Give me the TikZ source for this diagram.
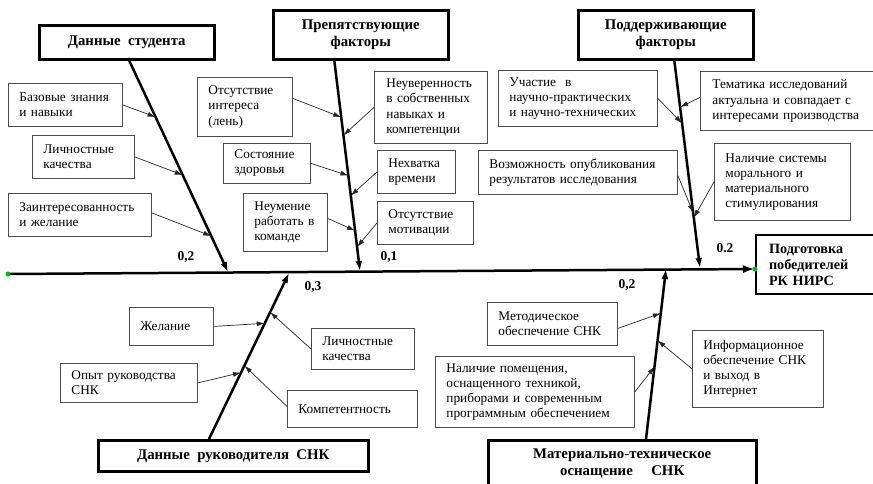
\documentclass[tikz,border=0pt]{standalone}
\usepackage{fontspec}
\setmainfont{Liberation Serif}
\usetikzlibrary{arrows.meta,calc}
\tikzset{
  sbox/.style={draw=black!70, line width=0.8pt, anchor=north west, align=left, inner xsep=11pt, inner ysep=0pt, font=\fontsize{13.3}{15.2}\selectfont},
  cbox/.style={draw, line width=2.5pt, anchor=north west, align=center, inner sep=0pt, font=\bfseries\fontsize{14.8}{17}\selectfont},
  bone/.style={line width=2.5pt, -{Latex[length=10pt,width=7pt]}},
  sarrow/.style={draw=black!85, line width=0.7pt, -{Latex[length=8pt,width=5pt]}},
  lbl/.style={font=\bfseries\fontsize{13.5}{14}\selectfont, inner sep=0pt},
  gdot/.style={fill=green!75!black}
}
\begin{document}
\begin{tikzpicture}[x=1pt,y=-1pt]
\useasboundingbox (0,0) rectangle (873,483);
% category boxes
\node[cbox, minimum width=175pt, minimum height=34pt] (c1) at (38,24) {Данные \ студента};
\node[cbox, minimum width=175pt, minimum height=49pt] (c2) at (272,9) {Препятствующие\\факторы};
\node[cbox, minimum width=175pt, minimum height=49pt] (c3) at (577,9) {Поддерживающие\\факторы};
\node[cbox, minimum width=270pt, minimum height=31pt] (c4) at (97,439) {Данные \ руководителя \ СНК};
\node[cbox, minimum width=268pt, minimum height=46pt] (c5) at (487,439) {Материально-техническое\\оснащение \quad СНК};
\node[cbox, line width=2pt, align=left, text width=104pt, inner xsep=13pt, minimum height=59pt, font=\bfseries\fontsize{14.2}{16}\selectfont] (r) at (755,234) {Подготовка\\победителей\\РК~НИРС};

% small boxes: student
\node[sbox, text width=92pt, minimum height=43pt] (s1) at (8,83) {Базовые~знания\\и~навыки};
\node[sbox, text width=80pt, minimum height=43pt] (s2) at (32,135) {Личностные\\качества};
\node[sbox, text width=121pt, minimum height=43pt] (s3) at (8,193) {Заинтересованность\\и~желание};
% obstacles
\node[sbox, text width=73pt, minimum height=59pt] (o1) at (197,77) {Отсутствие\\интереса\\(лень)};
\node[sbox, text width=65pt, minimum height=40pt] (o2) at (223,143) {Состояние\\здоровья};
\node[sbox, text width=62pt, minimum height=58pt] (o3) at (243,193) {Неумение\\работать~в\\команде};
\node[sbox, text width=89pt, inner xsep=12pt, minimum height=72pt] (o4) at (374,71) {Неуверенность\\в~собственных\\навыках~и\\компетенции};
\node[sbox, text width=56pt, minimum height=43pt] (o5) at (377,150) {Нехватка\\времени};
\node[sbox, text width=74pt, minimum height=43pt] (o6) at (377,201) {Отсутствие\\мотивации};
% support
\node[sbox, text width=137pt, minimum height=56pt] (p1) at (498,70) {Участие\ ~в\\\mbox{научно-практических}\\\mbox{и~научно-технических}};
\node[sbox, text width=161pt, inner xsep=12pt, minimum height=59pt] (p2) at (700,71) {Тематика~исследований\\актуальна~и~совпадает~с\\интересами~производства};
\node[sbox, text width=177pt, minimum height=44pt] (p3) at (478,150) {Возможность~опубликования\\результатов~исследования};
\node[sbox, text width=114pt, minimum height=77pt] (p4) at (714,143) {Наличие~системы\\морального~и\\материального\\стимулирования};
% leader
\node[sbox, text width=62pt, minimum height=38pt] (l1) at (129,307) {Желание};
\node[sbox, text width=81pt, minimum height=41pt] (l2) at (311,328) {Личностные\\качества};
\node[sbox, text width=115pt, minimum height=39pt] (l3) at (60,363) {Опыт~руководства\\СНК};
\node[sbox, text width=108pt, minimum height=37pt] (l4) at (287,390) {Компетентность};
% material
\node[sbox, text width=108pt, minimum height=43pt] (m1) at (487,302) {Методическое\\обеспечение~СНК};
\node[sbox, text width=177pt, minimum height=71pt] (m2) at (435,356) {Наличие~помещения,\\оснащенного~техникой,\\приборами~и~современным\\программным~обеспечением};
\node[sbox, text width=109pt, minimum height=77pt] (m3) at (692,330) {Информационное\\обеспечение~СНК\\и~выход~в\\Интернет};

% spine
\coordinate (sp0) at (8,274);
\coordinate (sp1) at ($(r.west)+(0,4.5)$);
\draw[line width=2.5pt, -{Latex[length=12pt,width=8pt]}] (sp0) -- (sp1);
\fill[gdot] (sp0) circle (2.5pt);
\fill[gdot] (sp1) circle (2.5pt);

% bones
\coordinate (b1s) at (128,58);  \coordinate (b1e) at (228,272);
\coordinate (b2s) at (334,58);  \coordinate (b2e) at (360,271);
\coordinate (b3s) at (674,58);  \coordinate (b3e) at (700,268);
\coordinate (b4s) at (209,439); \coordinate (b4e) at (289,273);
\coordinate (b5s) at (646,439); \coordinate (b5e) at (666,269);
\draw[bone] (b1s) -- (b1e);
\draw[bone] (b2s) -- (b2e);
\draw[bone] (b3s) -- (b3e);
\draw[bone] (b4s) -- (b4e);
\draw[bone] (b5s) -- (b5e);

% points on bones
\coordinate (t11) at ($(b1s)!0.276!(b1e)$);
\coordinate (t12) at ($(b1s)!0.547!(b1e)$);
\coordinate (t13) at ($(b1s)!0.832!(b1e)$);
\coordinate (t21) at ($(b2s)!0.278!(b2e)$);
\coordinate (t22) at ($(b2s)!0.552!(b2e)$);
\coordinate (t23) at ($(b2s)!0.811!(b2e)$);
\coordinate (t24) at ($(b2s)!0.363!(b2e)$);
\coordinate (t25) at ($(b2s)!0.646!(b2e)$);
\coordinate (t26) at ($(b2s)!0.887!(b2e)$);
\coordinate (t31) at ($(b3s)!0.311!(b3e)$);
\coordinate (t32) at ($(b3s)!0.234!(b3e)$);
\coordinate (t33) at ($(b3s)!0.737!(b3e)$);
\coordinate (t34) at ($(b3s)!0.761!(b3e)$);
\coordinate (t41) at ($(b4s)!0.697!(b4e)$);
\coordinate (t42) at ($(b4s)!0.764!(b4e)$);
\coordinate (t43) at ($(b4s)!0.400!(b4e)$);
\coordinate (t44) at ($(b4s)!0.442!(b4e)$);
\coordinate (t51) at ($(b5s)!0.740!(b5e)$);
\coordinate (t52) at ($(b5s)!0.426!(b5e)$);
\coordinate (t53) at ($(b5s)!0.580!(b5e)$);

% small arrows
\draw[sarrow] (s1.east) -- (t11);
\draw[sarrow] (s2.east) -- (t12);
\draw[sarrow] ([yshift=2pt]s3.east) -- (t13);
\draw[sarrow] ([yshift=8.5pt]o1.east) -- (t21);
\draw[sarrow] (o2.east) -- (t22);
\draw[sarrow] ([yshift=4pt]o3.east) -- (t23);
\draw[sarrow] (o4.west) -- (t24);
\draw[sarrow] (o5.west) -- (t25);
\draw[sarrow] (o6.west) -- (t26);
\draw[sarrow] (p1.east) -- (t31);
\draw[sarrow] ([yshift=3.5pt]p2.west) -- (t32);
\draw[sarrow] ([yshift=-3pt]p3.east) -- (t33);
\draw[sarrow] (p4.west) -- (t34);
\draw[sarrow] (l1.east) -- (t41);
\draw[sarrow] (l2.west) -- (t42);
\draw[sarrow] (l3.east) -- (t43);
\draw[sarrow] ([yshift=2.5pt]l4.west) -- (t44);
\draw[sarrow] ([yshift=-4.5pt]m1.east) -- (t51);
\draw[sarrow] (m2.east) -- (t52);
\draw[sarrow] (m3.west) -- (t53);

% weights
\node[lbl] (w1) at (186,257) {0,2};
\node[lbl] (w2) at (389,257) {0,1};
\node[lbl] (w3) at (725,248) {0.2};
\node[lbl] (w4) at (313,287) {0,3};
\node[lbl] (w5) at (627,285) {0,2};
\end{tikzpicture}
\end{document}
